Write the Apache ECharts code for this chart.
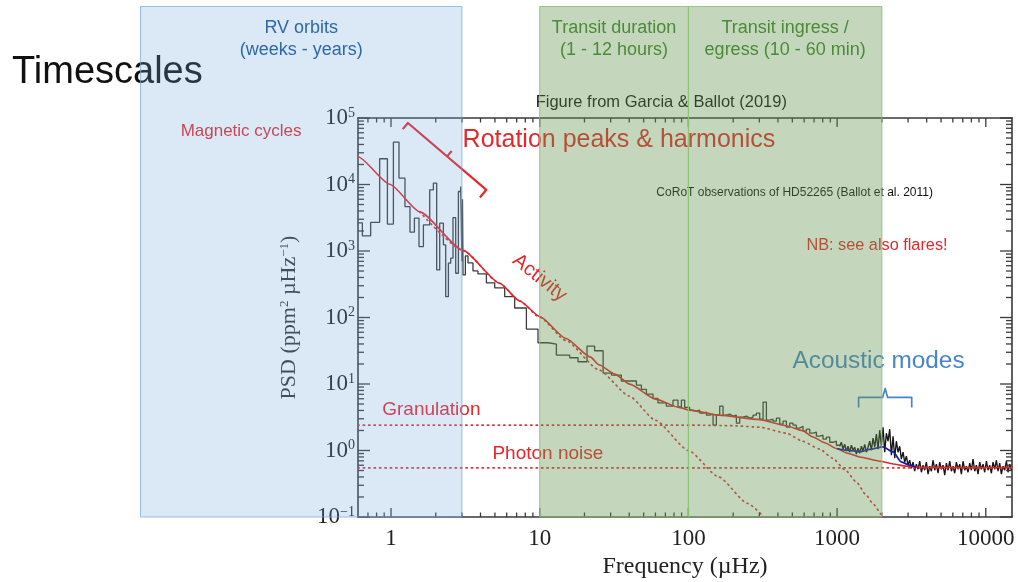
<!DOCTYPE html>
<html>
<head>
<meta charset="utf-8">
<title>Timescales – stellar power spectrum</title>
<script src="https://cdn.jsdelivr.net/npm/echarts@6/dist/echarts.min.js"></script>
<style>
  html, body { margin: 0; padding: 0; background: #fff; }
  #chart { width: 1018px; height: 582px; }
</style>
</head>
<body>
<div id="chart"></div>
<script>
// Power spectral density of HD 52265 (CoRoT), with the fitted background model
// and the timescales probed by RV orbits and transits.

// ---- Observed spectrum (frequency in µHz, PSD in ppm^2/µHz) ----
// raw resolution bins, 0.6 – 3 µHz
const rawFreq = [0.6, 0.642, 0.73, 0.839, 0.946, 1.038, 1.132, 1.242, 1.342, 1.437, 1.543, 1.652, 1.821,
  1.928, 2.029, 2.126, 2.251, 2.333, 2.432, 2.521, 2.612, 2.724, 2.84, 2.943, 3.0, 3.025];
const rawPsd = [2650, 1690, 2700, 24400, 2540, 43500, 12500, 4660, 1920, 3120, 1165, 2470, 8320,
  10500, 519, 2620, 1235, 206, 655, 780, 3185, 463, 7850, 9330, 700, 6000];
// rebinned spectrum, 3 – 100 µHz
const binnedFreq = [3.05, 3.164, 3.294, 3.559, 3.846, 4.382, 4.982, 5.816, 6.788, 8.138, 9.74, 11.37, 12.95,
  15.91, 18.1, 20.8, 23.4, 26.7, 30.4, 35.4, 44.7, 48.3, 52.2, 57.8, 62.4, 71.1, 78.8, 85.1, 89.7, 94.4];
const binnedPsd = [437, 844, 662, 501, 452, 331, 278, 206, 139, 67, 41.7, 39.9, 27.2,
  24.8, 21.6, 37.2, 31.6, 14.6, 13.6, 11.1, 9.62, 8.29, 7.05, 6.07, 5.21, 4.65, 5.72, 4.54, 5.72, 4.44];
// 100 – 1000 µHz
const midFreq = [102.0, 107.4, 113.1, 119.1, 125.4, 132.1, 139.1, 146.5, 154.2, 162.4, 171.0, 180.1, 189.6,
  199.7, 210.2, 221.3, 233.1, 245.4, 258.4, 272.1, 286.6, 301.7, 317.8, 334.6, 352.2, 370.9, 390.6, 411.2,
  433.0, 456.0, 480.1, 505.6, 532.3, 560.5, 590.2, 621.5, 654.3, 689.0, 725.5, 763.9, 804.4, 847.0, 891.9,
  939.2, 988.9];
const midPsd = [4.05, 3.91, 4.05, 3.65, 3.78, 3.40, 3.52, 2.40, 3.40, 4.65, 3.40, 3.52, 3.29,
  3.40, 2.58, 3.17, 3.29, 3.07, 3.17, 3.40, 3.65, 2.96, 5.34, 2.86, 2.96, 2.76, 3.07, 2.49,
  2.76, 2.24, 2.58, 2.40, 2.17, 2.32, 1.95, 2.09, 1.82, 1.89, 1.64, 1.70, 1.48, 1.59, 1.33,
  1.38, 1.20];
// full resolution above 1000 µHz (p-mode hump, then photon noise)
const highFreq = [
  1041, 1068, 1096, 1125, 1154, 1184, 1215, 1247, 1279, 1313, 1347, 1382,
  1419, 1456, 1494, 1533, 1573, 1614, 1657, 1700, 1745, 1790, 1837, 1885,
  1934, 1985, 2037, 2090, 2144, 2200, 2258, 2317, 2378, 2440, 2503, 2569,
  2636, 2705, 2776, 2848, 2923, 2999, 3077, 3158, 3240, 3325, 3411, 3501,
  3593, 3687, 3783, 3882, 3984, 4088, 4195, 4305, 4417, 4533, 4651, 4773,
  4898, 5026, 5158, 5292, 5430, 5572, 5718, 5868, 6021, 6178, 6340, 6505,
  6676, 6850, 7030, 7213, 7402, 7596, 7794, 7998, 8207, 8422, 8642, 8868,
  9100, 9338, 9582, 9833, 10090, 10350, 10620, 10900, 11180, 11480, 11780, 12080,
  12400, 12720, 13060, 13400, 13750, 14110, 14480, 14860];
const highPsd = [
  1.16, 1.33, 1.05, 1.24, 0.976, 1.16, 0.943, 1.20, 1.01, 1.12, 0.880, 1.08,
  0.911, 1.16, 0.976, 1.24, 0.943, 1.12, 1.38, 1.01, 1.53, 1.12, 1.76, 1.05,
  2.02, 1.16, 2.24, 0.943, 1.82, 1.38, 2.09, 0.850, 1.64, 0.766, 1.38, 0.943,
  1.16, 0.740, 0.943, 0.667, 0.821, 0.601, 0.714, 0.541, 0.667, 0.488, 0.622, 0.523,
  0.690, 0.471, 0.601, 0.505, 0.667, 0.440, 0.580, 0.488, 0.714, 0.505, 0.622, 0.455,
  0.667, 0.523, 0.601, 0.425, 0.644, 0.505, 0.690, 0.488, 0.580, 0.455, 0.667, 0.523,
  0.622, 0.440, 0.690, 0.505, 0.580, 0.471, 0.644, 0.505, 0.740, 0.488, 0.601, 0.440,
  0.667, 0.523, 0.622, 0.471, 0.690, 0.505, 0.601, 0.455, 0.667, 0.523, 0.714, 0.488,
  0.644, 0.440, 0.580, 0.505, 0.690, 0.471, 0.622, 0.505];

// ---- Background model ----
const totalFreq = [0.038, 0.07, 0.112, 0.145, 0.198, 0.243, 0.315, 0.407, 0.501, 0.6, 0.98, 1.56, 3.05, 5.38,
  7.34, 10, 15, 22, 25, 32, 40.3, 60, 87.5, 102, 160, 302, 456, 585, 689, 825, 989, 1172, 1419, 1934,
  2380, 2925, 3882, 6676, 15000];
const totalPsd = [150000, 150000, 147000, 142000, 125600, 112000, 87900, 60100, 38300, 26100, 10070, 3880, 1021, 327,
  177, 103.6, 48.3, 25.4, 19.45, 14.1, 9.95, 5.93, 4.41, 4.05, 3.40, 2.91, 2.36, 1.99, 1.60, 1.31, 1.07, 0.911, 0.80, 0.69,
  0.627, 0.58, 0.56, 0.555, 0.555];
const activityFreq = [1.56, 3.05, 5.38, 7.34, 10, 15, 25, 40, 60, 100, 160, 250, 340];
const activityPsd = [3880, 1021, 327, 177, 101, 45, 16.3, 6.6, 2.85, 1.0, 0.40, 0.16, 0.088];
const granulationFreq = [0.6, 119, 200, 302, 457, 585, 764, 931, 1139, 1351, 1553, 1757, 1986, 2150];
const granulationPsd = [2.40, 2.40, 2.36, 2.24, 1.82, 1.38, 1.05, 0.766, 0.505, 0.333, 0.220, 0.155, 0.110, 0.088];
const photonFreq = [0.6, 15000];
const photonPsd = [0.547, 0.547];
const modesFreq = [1000, 1156, 1419, 1657, 2036, 2380, 2700, 3077, 3400];
const modesPsd = [1.07, 1.01, 0.96, 1.04, 1.13, 0.953, 0.673, 0.601, 0.56];

// ---- Axis ticks ----
const xMajorTicks = [1, 10, 100, 1000, 10000];
const xMinorTicks = [0.7, 0.8, 0.9, 2, 3, 4, 5, 6, 7, 8, 9, 20, 30, 40, 50, 60, 70, 80, 90,
  200, 300, 400, 500, 600, 700, 800, 900, 2000, 3000, 4000, 5000, 6000, 7000, 8000, 9000];
const yMajorTicks = [0.1, 1, 10, 100, 1000, 10000, 100000];
const yMinorTicks = [0.2, 0.3, 0.4, 0.5, 0.6, 0.7, 0.8, 0.9, 2, 3, 4, 5, 6, 7, 8, 9,
  20, 30, 40, 50, 60, 70, 80, 90, 200, 300, 400, 500, 600, 700, 800, 900,
  2000, 3000, 4000, 5000, 6000, 7000, 8000, 9000, 20000, 30000, 40000, 50000, 60000, 70000, 80000, 90000];

// ---- Timescale bands (µHz) ----
const bandFrom = [0.0207, 10, 100];
const bandTo = [3, 100, 2000];
const bandTitle = ['RV orbits', 'Transit duration', 'Transit ingress /'];
const bandSub = ['(weeks - years)', '(1 - 12 hours)', 'egress (10 - 60 min)'];

const X_MIN = 0.6, X_MAX = 15000, Y_MIN = 0.1, Y_MAX = 1e5;
const BAND_TOP = 4.75e6;

const SANS = '"Liberation Sans", Arial, Helvetica, sans-serif';
const SERIF = '"Liberation Serif", "Times New Roman", Times, serif';
const RED = '#e4272b';
const AXIS = '#3a3a3a';

const zip = (fs, ps) => fs.map((f, i) => [f, ps[i]]);
// stepped part of the spectrum; it ends where the full-resolution part begins
const steppedSpectrum = [].concat(zip(rawFreq, rawPsd), zip(binnedFreq, binnedPsd),
  zip(midFreq, midPsd), [[highFreq[0], highPsd[0]]]);
const denseSpectrum = zip(highFreq, highPsd);

const tickData = [].concat(
  xMajorTicks.map(v => [v, 1, 0]),
  xMinorTicks.map(v => [v, 1, 1]),
  yMajorTicks.map(v => [1, v, 2]),
  yMinorTicks.map(v => [1, v, 3])
);

const isPow10 = v => Math.abs(Math.log10(v) - Math.round(Math.log10(v))) < 1e-6;

const chart = echarts.init(document.getElementById('chart'), null, { renderer: 'canvas' });

const dotted = { color: '#d8363e', width: 1.7, type: [1.2, 4.2], cap: 'round' };
const smoothLine = { type: 'line', smooth: 0.2, smoothMonotone: 'x', symbol: 'none' };

const option = {
  animation: false,
  backgroundColor: '#ffffff',
  textStyle: { fontFamily: SANS },
  grid: { left: 358, right: 6, top: 118, bottom: 65, containLabel: false, outerBoundsMode: 'none' },
  xAxis: [
    {
      type: 'log', logBase: 10, min: X_MIN, max: X_MAX, position: 'bottom',
      axisLine: { show: true, lineStyle: { color: AXIS, width: 1.6 } },
      axisTick: { show: false }, splitLine: { show: false },
      axisLabel: {
        margin: 10, color: '#222', fontFamily: SERIF, fontSize: 23,
        formatter: v => isPow10(v) ? String(Math.round(v)) : ''
      },
      name: 'Frequency (µHz)', nameLocation: 'middle', nameGap: 35,
      nameTextStyle: { fontFamily: SERIF, fontSize: 24, color: '#222' }
    },
    {
      type: 'log', logBase: 10, min: X_MIN, max: X_MAX, position: 'top',
      axisLine: { show: true, lineStyle: { color: AXIS, width: 1.6 } },
      axisTick: { show: false }, axisLabel: { show: false }, splitLine: { show: false }
    }
  ],
  yAxis: [
    {
      type: 'log', logBase: 10, min: Y_MIN, max: Y_MAX, position: 'left', splitNumber: 6,
      axisLine: { show: true, lineStyle: { color: AXIS, width: 1.6 } },
      axisTick: { show: false }, splitLine: { show: false },
      axisLabel: {
        margin: 3,
        formatter: v => {
          if (!isPow10(v)) return '';
          const e = Math.round(Math.log10(v));
          return '{b|10}{s|' + (e < 0 ? '\u2212' + (-e) : e) + '}';
        },
        rich: {
          b: { fontFamily: SERIF, fontSize: 23, color: '#222', lineHeight: 24 },
          s: { fontFamily: SERIF, fontSize: 14, color: '#222', lineHeight: 14, verticalAlign: 'top' }
        }
      },
      name: 'PSD (ppm{sup|2} µHz{sup|\u22121})', nameLocation: 'middle', nameGap: 57,
      nameTextStyle: {
        fontFamily: SERIF, fontSize: 22, color: '#333', lineHeight: 23,
        rich: { sup: { fontFamily: SERIF, fontSize: 13, color: '#333', lineHeight: 13, verticalAlign: 'top' } }
      }
    },
    {
      type: 'log', logBase: 10, min: Y_MIN, max: Y_MAX, position: 'right',
      axisLine: { show: true, lineStyle: { color: AXIS, width: 1.6 } },
      axisTick: { show: false }, axisLabel: { show: false }, splitLine: { show: false }
    }
  ],
  series: [
    {
      name: 'PSD', type: 'line', data: steppedSpectrum, step: 'end', symbol: 'none', clip: true, z: 2,
      lineStyle: { color: '#3c3c3c', width: 1.3 }
    },
    {
      name: 'PSD full resolution', type: 'line', data: denseSpectrum, symbol: 'none', clip: true, z: 2,
      lineStyle: { color: '#161616', width: 1.35 }
    },
    Object.assign({ name: 'activity', data: zip(activityFreq, activityPsd), clip: true, z: 3, lineStyle: dotted }, smoothLine),
    Object.assign({ name: 'granulation', data: zip(granulationFreq, granulationPsd), clip: true, z: 3, lineStyle: dotted }, smoothLine),
    {
      name: 'photon noise', type: 'line', data: zip(photonFreq, photonPsd),
      symbol: 'none', clip: true, z: 3, lineStyle: dotted
    },
    Object.assign({ name: 'model', data: zip(totalFreq, totalPsd), clip: false, z: 4,
      lineStyle: { color: '#e0252c', width: 1.6 } }, smoothLine),
    Object.assign({ name: 'p modes', data: zip(modesFreq, modesPsd), clip: true, z: 5,
      lineStyle: { color: '#1c1ca8', width: 1.8 } }, smoothLine),
    {
      name: 'ticks', type: 'custom', data: tickData, clip: false, silent: true, z: 6,
      encode: { x: 0, y: 1 },
      renderItem: (params, api) => {
        const cs = params.coordSys;
        const kind = api.value(2);
        const p = api.coord([api.value(0), api.value(1)]);
        const st = { stroke: AXIS, lineWidth: 1.3 };
        if (kind < 2) {
          const len = kind === 0 ? 9 : 4.5;
          const bottom = cs.y + cs.height, top = cs.y;
          return { type: 'group', children: [
            { type: 'line', shape: { x1: p[0], y1: bottom, x2: p[0], y2: bottom - len }, style: st },
            { type: 'line', shape: { x1: p[0], y1: top, x2: p[0], y2: top + len }, style: st }
          ] };
        }
        const len = kind === 2 ? 12 : 6;
        const left = cs.x, right = cs.x + cs.width;
        return { type: 'group', children: [
          { type: 'line', shape: { x1: left, y1: p[1], x2: left + len, y2: p[1] }, style: st },
          { type: 'line', shape: { x1: right, y1: p[1], x2: right - len, y2: p[1] }, style: st }
        ] };
      }
    }
  ]
};

chart.setOption(option);

// Annotations anchored at (frequency, PSD) positions
const notes = [
  { text: 'Magnetic cycles', f: 0.0385, p: 62200, size: 17, color: RED },
  { text: 'Rotation peaks & harmonics', f: 3.03, p: 47100, size: 25, color: RED },
  { text: 'Activity', f: 10, p: 394, size: 20, color: RED, align: 'center', rot: -0.68 },
  { text: 'Granulation', f: 0.873, p: 4.14, size: 19, color: RED },
  { text: 'Photon noise', f: 4.81, p: 0.901, size: 19, color: RED },
  { text: 'Figure from Garcia & Ballot (2019)', f: 9.40, p: 1.70e5, size: 16.5, color: '#111' },
  { text: 'CoRoT observations of HD52265 (Ballot et al. 2011)', f: 60.9, p: 7590, size: 12, color: '#111' },
  { text: 'NB: see also flares!', f: 621.6, p: 1194, size: 16.3, color: RED },
  { text: 'Acoustic modes', f: 500.6, p: 22.1, size: 24.4, color: '#4a85c8' }
];

function drawOverlays() {
  const px = (f, p) => chart.convertToPixel({ seriesIndex: 0 }, [f, p]);
  const els = [];

  els.push({
    type: 'text', x: 12, y: 73, z: 10, silent: true,
    style: { text: 'Timescales', fill: '#111', fontSize: 38, fontFamily: SANS, align: 'left', verticalAlign: 'middle' }
  });

  notes.forEach(n => {
    const q = px(n.f, n.p);
    els.push({
      type: 'text', x: q[0], y: q[1], rotation: n.rot || 0, z: 10, silent: true,
      style: { text: n.text, fill: n.color, fontSize: n.size, fontFamily: SANS,
        align: n.align || 'left', verticalAlign: 'middle' }
    });
  });

  // bracket over the rotation peaks
  const a = px(1.30, 84100), b = px(4.38, 8320);
  const dx = b[0] - a[0], dy = b[1] - a[1], d = Math.hypot(dx, dy);
  const ux = dx / d, uy = dy / d;
  const m = [(a[0] + b[0]) / 2, (a[1] + b[1]) / 2];
  els.push({
    type: 'polyline', z: 10, silent: true,
    shape: { points: [[a[0] - uy * 8, a[1] + ux * 8], a, b, [b[0] - uy * 10, b[1] + ux * 10]] },
    style: { stroke: RED, lineWidth: 2.2, fill: null, lineJoin: 'round' }
  });
  els.push({
    type: 'polyline', z: 10, silent: true,
    shape: { points: [m, [m[0] + uy * 7, m[1] - ux * 7]] },
    style: { stroke: RED, lineWidth: 2.2, fill: null }
  });

  // brace over the p-mode hump
  const l = px(1395, 6.28), r = px(3175, 6.28), c = px(2104, 6.28);
  els.push({
    type: 'polyline', z: 10, silent: true,
    shape: { points: [[l[0], l[1] + 10], [l[0], l[1]], [c[0] - 2.5, c[1]], [c[0], c[1] - 9],
      [c[0] + 2.5, c[1]], [r[0], r[1]], [r[0], r[1] + 10]] },
    style: { stroke: '#4a85c8', lineWidth: 1.7, fill: null, lineJoin: 'round' }
  });

  // timescale bands on top of everything
  bandFrom.forEach((f0, i) => {
    const tl = px(f0, BAND_TOP), br = px(bandTo[i], Y_MIN);
    const blue = i === 0;
    els.push({
      type: 'rect', z: 20, silent: true,
      shape: { x: tl[0], y: tl[1], width: br[0] - tl[0], height: br[1] - tl[1] },
      style: blue
        ? { fill: 'rgba(111,168,220,0.25)', stroke: 'rgba(120,170,222,0.75)', lineWidth: 1 }
        : { fill: 'rgba(100,150,80,0.38)', stroke: 'rgba(140,195,120,0.9)', lineWidth: 1 }
    });
    const cx = px(Math.sqrt(f0 * bandTo[i]), 1)[0];
    const col = blue ? '#2e68a8' : '#4b8a36';
    [bandTitle[i], bandSub[i]].forEach((t, k) => {
      els.push({
        type: 'text', x: cx, y: tl[1] + 22 + 22 * k, z: 30, silent: true,
        style: { text: t, fill: col, fontSize: 18, fontFamily: SANS, align: 'center', verticalAlign: 'middle' }
      });
    });
  });

  chart.setOption({ graphic: { elements: els } });
}

drawOverlays();
</script>
</body>
</html>
